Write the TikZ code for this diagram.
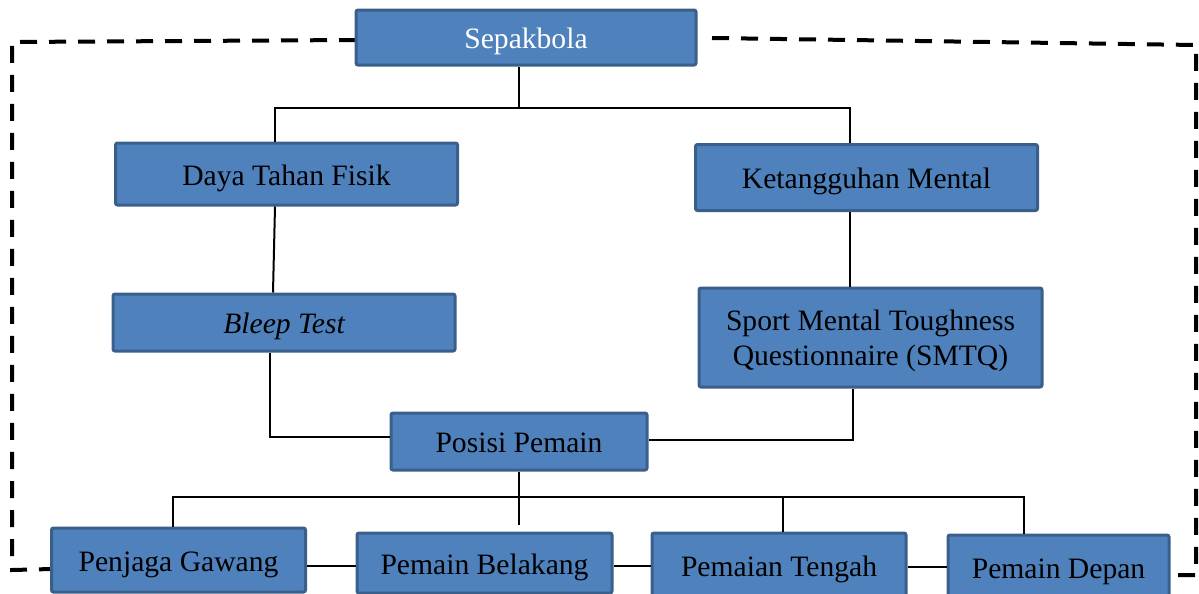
\documentclass[tikz,border=0pt]{standalone}
\usepackage{fontspec}
\setmainfont{Liberation Serif}
\usetikzlibrary{positioning}

\begin{document}
\begin{tikzpicture}[x=0.5pt,y=-0.5pt,
    box/.style={draw=boxline, fill=boxfill, line width=1.5pt, rounded corners=1pt,
      inner sep=0pt, align=center, font=\fontsize{14.8}{17.5}\selectfont},
    one/.style={box, text height=12pt, text depth=1pt},
    link/.style={draw=black, line width=1pt},
    frame/.style={draw=black, line width=2pt, dash pattern=on 8.5pt off 6pt}]
        \definecolor{boxfill}{HTML}{4F81BD}
        \definecolor{boxline}{HTML}{3A5F8B}
        \useasboundingbox (0,0) rectangle (1199,594);
        \clip (0,0) rectangle (1199,594);
        %% Draw the dashed frame.
        \draw[frame] (356,40) -- (12,42) -- (12,570) -- (52,569);
        \draw[frame] (712,38) -- (1196,45) -- (1196,575) -- (1168,575);
        %% Draw the boxes.
        \node[one, text=white, minimum width=170pt, minimum height=27.5pt] (sepak) at (526,37.5) {Sepakbola};
        \node[one, minimum width=171pt, minimum height=31pt] (daya) at (286.5,174) {Daya Tahan Fisik};
        \node[one, minimum width=171pt, minimum height=33pt] (ket) at (866.5,177.5) {Ketangguhan Mental};
        \node[one, minimum width=171pt, minimum height=28.5pt] (bleep) at (284,322.5) {\itshape Bleep Test};
        \node[box, text depth=0pt, minimum width=171.5pt, minimum height=49.5pt] (smtq) at (870.5,337.5) {Sport Mental Toughness\\Questionnaire (SMTQ)};
        \node[one, minimum width=128pt, minimum height=28.5pt] (posisi) at (519,441.5) {Posisi Pemain};
        \node[one, minimum width=127pt, minimum height=32pt] (pg) at (178.5,560) {Penjaga Gawang};
        \node[one, minimum width=127.5pt, minimum height=30pt] (pb) at (484.5,563) {Pemain Belakang};
        \node[one, minimum width=127pt, minimum height=32pt] (pt) at (779,565) {Pemaian Tengah};
        \node[one, minimum width=110.5pt, minimum height=32pt] (pd) at (1058.5,567) {Pemain Depan};
        %% Draw the connectors.
        \draw[link] (sepak.south -| 519,0) -- (519,108);
        \draw[link] (daya.north -| 275,0) |- (850,108) -- (ket.north -| 850,0);
        \draw[link] (daya.south -| 275,0) -- (bleep.north -| 273,0);
        \draw[link] (ket.south -| 850,0) -- (smtq.north -| 850,0);
        \draw[link] (bleep.south -| 270,0) |- (posisi.west |- 0,437);
        \draw[link] (smtq.south -| 853,0) |- (posisi.east |- 0,440);
        \draw[link] (posisi.south -| 519,0) -- (519,525);
        \draw[link] (pg.north -| 173,0) |- (1024,497) -- (pd.north -| 1024,0);
        \draw[link] (783,497) -- (pt.north -| 783,0);
        \draw[link] (pg.east |- 0,566) -- (pb.west |- 0,566);
        \draw[link] (pb.east |- 0,566) -- (pt.west |- 0,566);
        \draw[link] (pt.east |- 0,567) -- (pd.west |- 0,567);
\end{tikzpicture}
\end{document}
